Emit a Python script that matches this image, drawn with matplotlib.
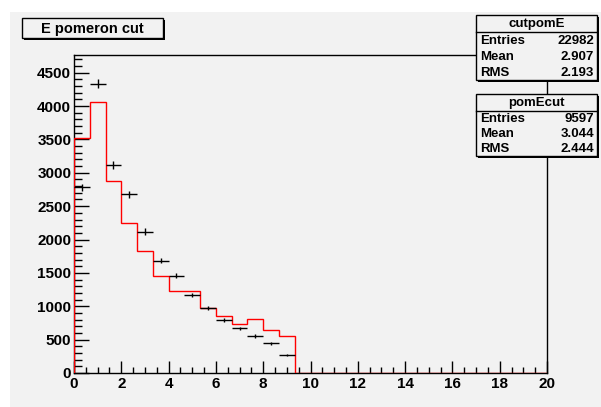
import numpy as np
import matplotlib
matplotlib.use("Agg")
import matplotlib.pyplot as plt
from matplotlib.patches import Rectangle
from matplotlib.ticker import MultipleLocator

plt.rcParams['font.family'] = ['Liberation Sans', 'DejaVu Sans']
plt.rcParams['font.weight'] = 'bold'

# histogram binning: 30 bins over [0, 20]
bin_edges = np.linspace(0, 20, 31)

# cutpomE (black points with errors)
cut_counts = [2785, 4335, 3120, 2680, 2120, 1685, 1455, 1170, 970, 795,
              670, 555, 445, 270] + [0] * 16
# pomEcut (red line)
pom_counts = [3525, 4065, 2870, 2250, 1825, 1460, 1235, 1235, 970, 855,
              735, 815, 640, 555] + [0] * 16

title = "E pomeron cut"
stat_names = ["cutpomE", "pomEcut"]
stat_entries = ["22982", "9597"]
stat_means = ["2.907", "3.044"]
stat_rms = ["2.193", "2.444"]

W, H = 601, 407
bg = "#f2f2f2"
fig = plt.figure(figsize=(W / 100, H / 100), dpi=100, facecolor="white")

# canvas area
fig.patches.append(Rectangle((10 / W, 0), 1, 1 - 12 / H, transform=fig.transFigure,
                             facecolor=bg, edgecolor="none", zorder=-10))

L, R, T, B = 74, 547, 55, 373
ax = fig.add_axes([L / W, 1 - B / H, (R - L) / W, (B - T) / H])
ax.set_facecolor(bg)

cut = np.array(cut_counts, dtype=float)
pom = np.array(pom_counts, dtype=float)
centers = 0.5 * (bin_edges[:-1] + bin_edges[1:])
half = 0.5 * np.diff(bin_edges)

ax.stairs(pom, bin_edges, color="red", lw=1.0, zorder=3)
m = cut > 0
ax.errorbar(centers[m], cut[m], xerr=half[m], yerr=np.sqrt(cut[m]),
            fmt="none", ecolor="black", elinewidth=1.0, capsize=0, zorder=4)

ax.set_xlim(0, 20)
ax.set_ylim(0, 4765)
ax.xaxis.set_major_locator(MultipleLocator(2))
ax.xaxis.set_minor_locator(MultipleLocator(0.5))
ax.yaxis.set_major_locator(MultipleLocator(500))
ax.yaxis.set_minor_locator(MultipleLocator(100))
ax.tick_params(axis="y", which="major", direction="in", length=10.5, width=1, pad=2,
               labelsize=11, right=False)
ax.tick_params(axis="y", which="minor", direction="in", length=5.5, width=1, right=False)
ax.tick_params(axis="x", which="major", direction="in", length=8.5, width=1, pad=3,
               labelsize=11, top=False)
ax.tick_params(axis="x", which="minor", direction="in", length=4.5, width=1, top=False)
for lab in ax.get_xticklabels() + ax.get_yticklabels():
    lab.set_fontweight("bold")
for sp in ax.spines.values():
    sp.set_linewidth(1.0)
    sp.set_color("black")

# overlay in pixel coordinates for title and statistics boxes
ov = fig.add_axes([0, 0, 1, 1], facecolor="none")
ov.set_xlim(0, W)
ov.set_ylim(H, 0)
ov.axis("off")


def box(x0, y0, x1, y1):
    ov.add_patch(Rectangle((x0 + 2, y0 + 2), x1 - x0, y1 - y0, facecolor="black",
                           edgecolor="none", zorder=5))
    ov.add_patch(Rectangle((x0, y0), x1 - x0, y1 - y0, facecolor=bg,
                           edgecolor="black", lw=1.0, zorder=6))


box(22, 18, 163, 38)
ov.text(92, 28.5, title, ha="center", va="center", fontsize=10.5, fontweight="bold", zorder=7)

for i, (y0, y1) in enumerate([(15, 80), (94, 156)]):
    x0, x1 = 476, 597
    box(x0, y0, x1, y1)
    hdr = y0 + 17
    ov.plot([x0, x1], [hdr, hdr], color="black", lw=1.0, zorder=7)
    ov.text((x0 + x1) / 2, (y0 + hdr) / 2 + 0.5, stat_names[i], ha="center", va="center",
            fontsize=9.5, fontweight="bold", zorder=7)
    rows = [("Entries", stat_entries[i]), ("Mean", stat_means[i]), ("RMS", stat_rms[i])]
    rh = (y1 - hdr) / 3
    for j, (name, val) in enumerate(rows):
        yc = hdr + rh * (j + 0.5) + 0.5
        ov.text(x0 + 4, yc, name, ha="left", va="center", fontsize=9.5,
                fontweight="bold", zorder=7)
        ov.text(x1 - 3, yc, val, ha="right", va="center", fontsize=9.5,
                fontweight="bold", zorder=7)

fig.savefig("out.png", dpi=100, facecolor="white")
